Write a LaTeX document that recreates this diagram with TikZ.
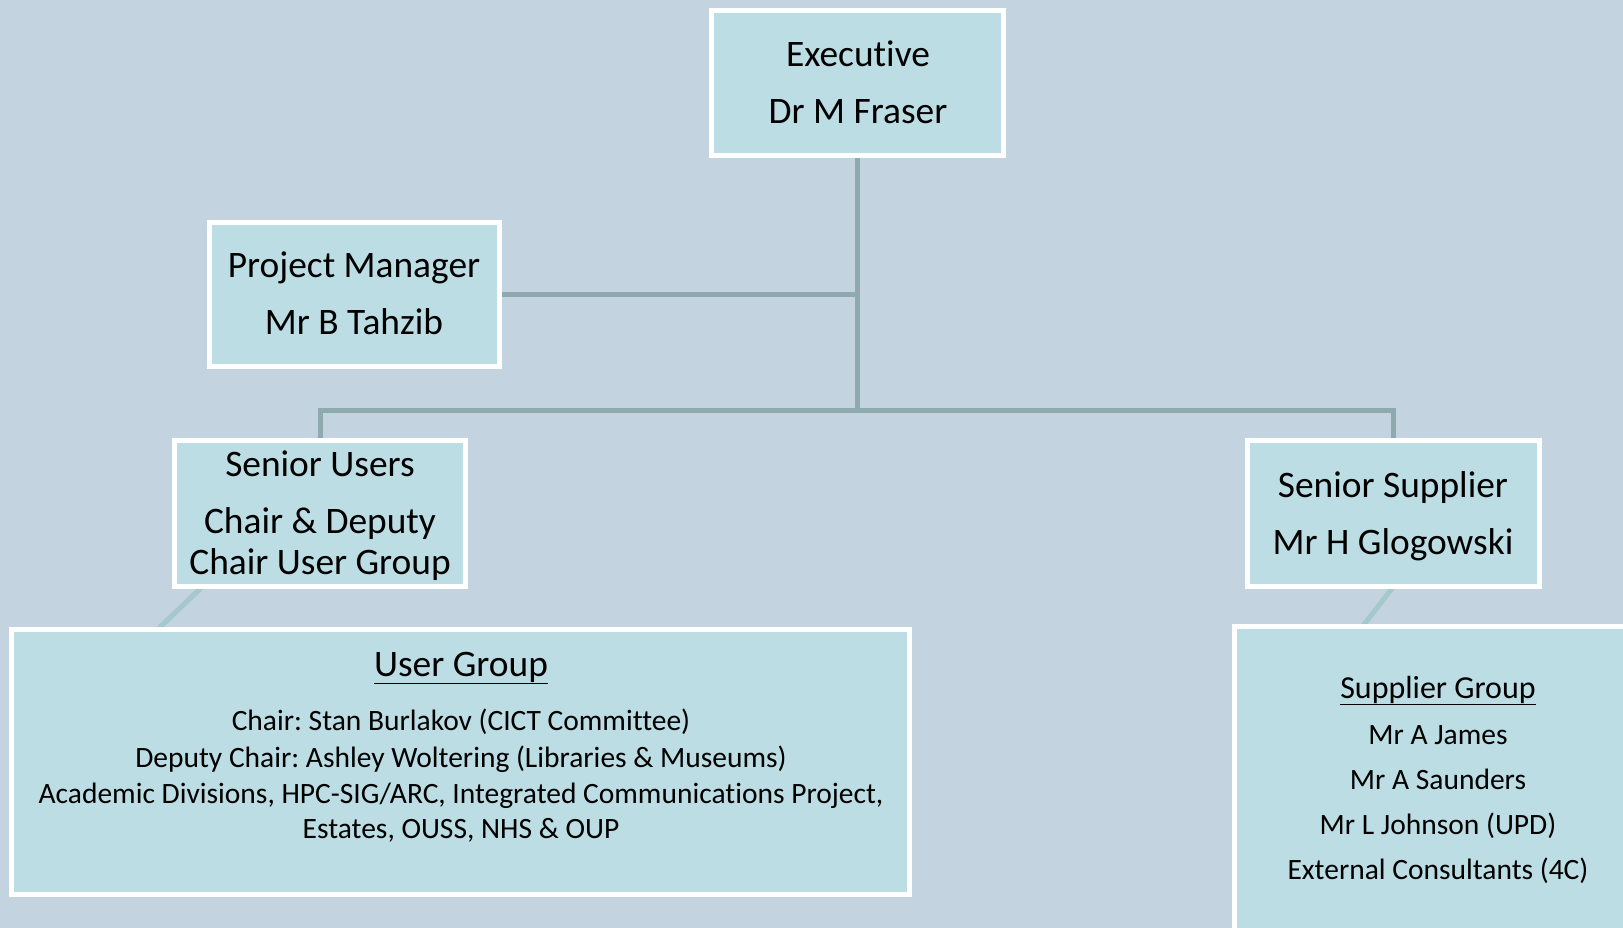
\documentclass[tikz,border=0pt]{standalone}
\usepackage{fontspec}
\setmainfont{Carlito}[Ligatures=NoCommon]
\frenchspacing
\pgfdeclarelayer{bgl}
\pgfdeclarelayer{conn}
\pgfsetlayers{bgl,conn,main}
\definecolor{bgc}{HTML}{C4D3E0}
\definecolor{boxc}{HTML}{BBDDE3}
\definecolor{linec}{HTML}{8FAAAE}
\definecolor{diagc}{HTML}{A5C8CC}
\begin{document}
\begin{tikzpicture}[x=1pt,y=-1pt,
  box/.style={draw=white, line width=5pt, fill=boxc, inner sep=0pt, outer sep=0pt},
  big/.style={anchor=base, inner sep=0pt, font=\fontsize{37.4}{44}\selectfont},
  small/.style={anchor=base, inner sep=0pt, font=\fontsize{29.5}{35}\selectfont},
  sgtitle/.style={anchor=base, inner sep=0pt, font=\fontsize{32}{38}\selectfont},
  conn/.style={draw=linec, line width=5pt},
  diag/.style={draw=diagc, line width=5pt}]
\useasboundingbox (0,0) rectangle (1623,928);
\clip (0,0) rectangle (1623,928);
\begin{pgfonlayer}{bgl}
\fill[bgc] (0,0) rectangle (1623,928);
\end{pgfonlayer}

% boxes
\node[box, minimum width=292pt, minimum height=145pt] (ex) at (857.5,83) {};
\node[box, minimum width=290pt, minimum height=144pt] (pm) at (354.5,294.5) {};
\node[box, minimum width=291pt, minimum height=146pt] (su) at (320,513.5) {};
\node[box, minimum width=292pt, minimum height=146pt] (ss) at (1393.5,513.5) {};
\node[box, minimum width=898pt, minimum height=265pt] (ug) at (460.5,762) {};
\node[box, minimum width=407pt, minimum height=311pt] (sg) at (1438,782) {};

% connectors
\begin{pgfonlayer}{conn}
\coordinate (bus) at (ex.south |- 0,410);
\draw[conn] (ex.south) -- (bus);
\draw[conn] (pm.east) -- (pm.east -| ex.south);
\draw[conn] (su.north) -- (su.north |- bus) -- (ss.north |- bus) -- (ss.north);
\draw[diag] ([xshift=28pt]su.south west) -- ([xshift=146pt]ug.north west);
\draw[diag] (ss.south) -- ([xshift=128pt]sg.north west);
\end{pgfonlayer}

% texts
\node[big] (ex1) at (858,67) {Executive};
\node[big] (ex2) at (858,124) {Dr M Fraser};
\node[big] (pm1) at (354,277) {Project Manager};
\node[big] (pm2) at (354,334) {Mr B Tahzib};
\node[big] (su1) at (320,476) {Senior Users};
\node[big] (su2) at (320,533) {Chair \& Deputy};
\node[big] (su3) at (320,574) {Chair User Group};
\node[big] (ss1) at (1393,497) {Senior Supplier};
\node[big] (ss2) at (1393,554) {Mr H Glogowski};

\node[big] (ug0) at (461,676) {\underline{User Group}};
\node[small] (ug1) at (461,730) {Chair: Stan Burlakov (CICT Committee)};
\node[small] (ug2) at (461,767) {Deputy Chair: Ashley Woltering (Libraries \& Museums)};
\node[small] (ug3) at (461,803) {Academic Divisions, HPC-SIG/ARC, Integrated Communications Project,};
\node[small] (ug4) at (461,838) {Estates, OUSS, NHS \& OUP};

\node[sgtitle] (sg0) at (1438,698) {\underline{Supplier Group}};
\node[small] (sg1) at (1438,744) {Mr A James};
\node[small] (sg2) at (1438,789) {Mr A Saunders};
\node[small] (sg3) at (1438,834) {Mr L Johnson (UPD)};
\node[small] (sg4) at (1438,879) {External Consultants (4C)};
\end{tikzpicture}
\end{document}
